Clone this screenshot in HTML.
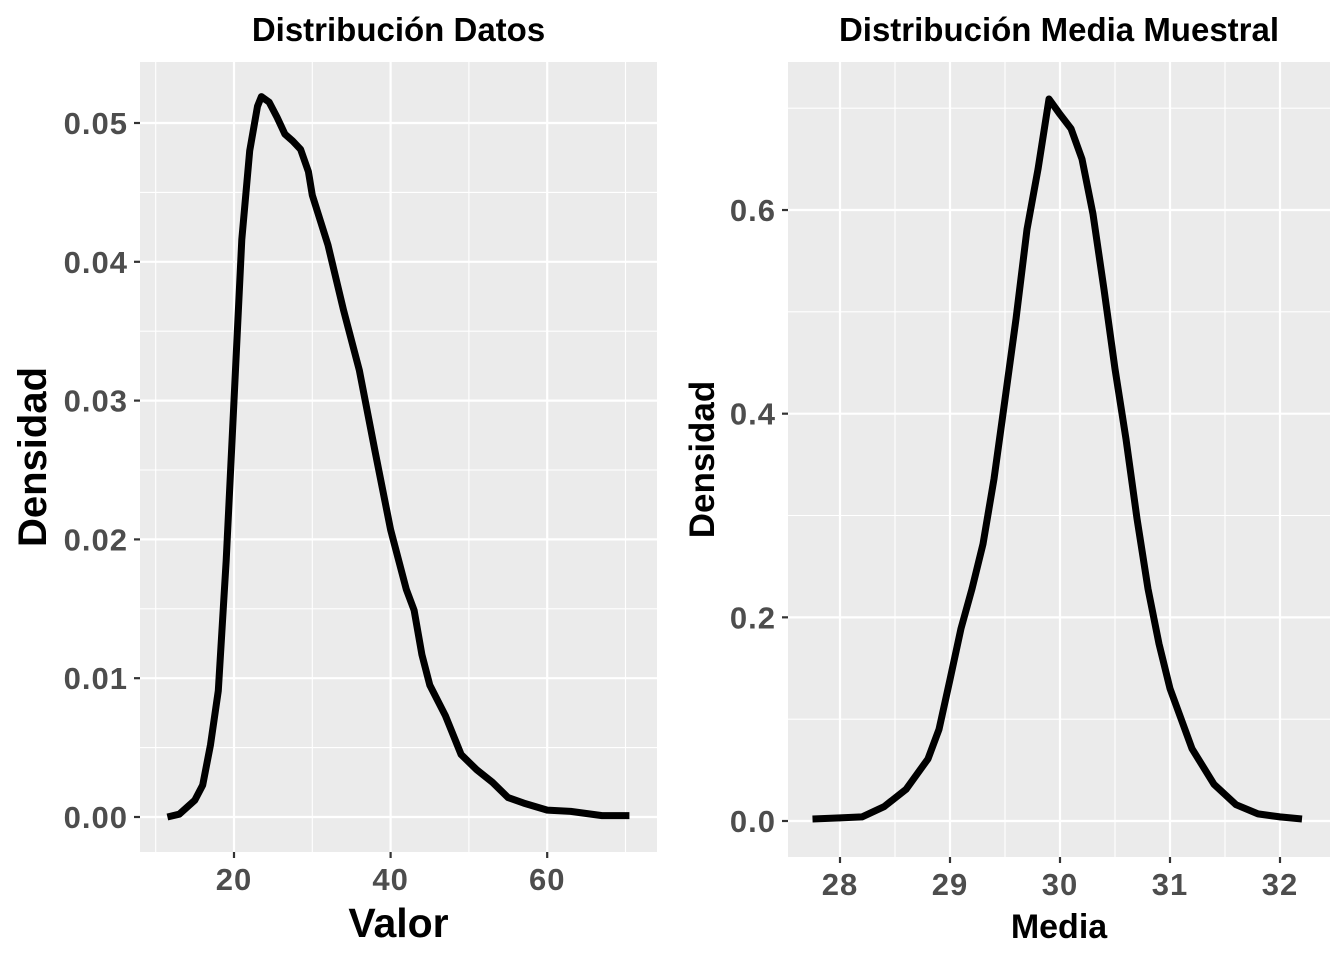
<!DOCTYPE html>
<html><head><meta charset="utf-8">
<style>
html,body{margin:0;padding:0;background:#fff;}
svg{display:block;font-family:"Liberation Sans",sans-serif;}
</style></head>
<body>
<svg id="c" width="1344" height="960"></svg>
<script>
// Left panel data
const leftX = [11.5,13,15,16,17,18,19,20,21,22,23,23.5,24.5,25.5,26.5,27.5,28.5,29.5,30,32,34,36,38,40,42,43,44,45,47,49,51,53,55,57,60,63,67,70.5];
const leftY = [0,0.0002,0.0012,0.0023,0.0052,0.0091,0.0185,0.030,0.0416,0.048,0.0512,0.0519,0.0515,0.0504,0.0492,0.0487,0.0481,0.0465,0.0448,0.0412,0.0365,0.0322,0.0264,0.0207,0.0164,0.0149,0.0117,0.0095,0.0073,0.0045,0.0034,0.0025,0.0014,0.001,0.0005,0.0004,0.0001,0.0001];
const leftXTicks = [20,40,60];
const leftYTicks = [0,0.01,0.02,0.03,0.04,0.05];
const leftYLabels = ["0.00","0.01","0.02","0.03","0.04","0.05"];
// Right panel data
const rightX = [27.75,28,28.2,28.4,28.6,28.8,28.9,29.0,29.1,29.2,29.3,29.4,29.5,29.6,29.7,29.8,29.9,30.0,30.1,30.2,30.3,30.4,30.5,30.6,30.7,30.8,30.9,31.0,31.2,31.4,31.6,31.8,32.0,32.2];
const rightY = [0.002,0.003,0.004,0.014,0.031,0.061,0.09,0.139,0.189,0.228,0.272,0.336,0.414,0.493,0.581,0.64,0.709,0.694,0.68,0.65,0.596,0.522,0.444,0.375,0.297,0.228,0.174,0.13,0.071,0.036,0.016,0.007,0.004,0.002];
const rightXTicks = [28,29,30,31,32];
const rightYTicks = [0,0.2,0.4,0.6];
const rightYLabels = ["0.0","0.2","0.4","0.6"];

const NS="http://www.w3.org/2000/svg";
const svg=document.getElementById('c');
function mk(tag,attrs,parent){const e=document.createElementNS(NS,tag);for(const k in attrs)e.setAttribute(k,attrs[k]);(parent||svg).appendChild(e);return e;}

function panel(o){
  const g=mk('g',{});
  
  
  const sx=v=>o.x0px+(v-o.x0)*o.kx;
  const sy=v=>o.y0px-(v-o.y0)*o.ky;
  const bg=mk('rect',{x:o.L,y:o.T,width:o.R-o.L,height:o.B-o.T,fill:'#ebebeb'},g);
  
  
  for(let i=0;i<o.xTicks.length+1;i++){
    const step=o.xTicks[1]-o.xTicks[0];
    const v=o.xTicks[0]-step/2+i*step;const p=sx(v);
    if(p>o.L&&p<o.R){const l=mk('line',{x1:p,x2:p,y1:o.T,y2:o.B,stroke:'#fff','stroke-width':1.1},g);
      }
  }
  for(let i=0;i<o.yTicks.length+1;i++){
    const step=o.yTicks[1]-o.yTicks[0];
    const v=o.yTicks[0]-step/2+i*step;const p=sy(v);
    if(p>o.T&&p<o.B){const l=mk('line',{x1:o.L,x2:o.R,y1:p,y2:p,stroke:'#fff','stroke-width':1.1},g);
      }
  }
  o.xTicks.forEach(v=>{const p=sx(v);
    const l=mk('line',{x1:p,x2:p,y1:o.T,y2:o.B,stroke:'#fff','stroke-width':2.2},g);
    
    const t=mk('line',{x1:p,x2:p,y1:o.B,y2:o.B+6,stroke:'#333','stroke-width':2.2},g);
    
    const tx=mk('text',{x:p,y:o.B+38,'text-anchor':'middle','font-size':31,'font-weight':'bold',fill:'#4d4d4d','letter-spacing':1},g);
    tx.textContent=String(v);
    
  });
  o.yTicks.forEach((v,i)=>{const p=sy(v);
    const l=mk('line',{x1:o.L,x2:o.R,y1:p,y2:p,stroke:'#fff','stroke-width':2.2},g);
    
    const t=mk('line',{x1:o.L-6,x2:o.L,y1:p,y2:p,stroke:'#333','stroke-width':2.2},g);
    
    const tx=mk('text',{x:o.L-12,y:p+11,'text-anchor':'end','font-size':31,'font-weight':'bold',fill:'#4d4d4d','letter-spacing':1},g);
    tx.textContent=o.yLabels[i];
    
  });
  let d='';o.xs.forEach((v,i)=>{d+=(i?'L':'M')+sx(v).toFixed(1)+','+sy(o.ys[i]).toFixed(1);});
  const path=mk('path',{d:d,fill:'none',stroke:'#000','stroke-width':7,'stroke-linejoin':'round','stroke-linecap':'butt'},g);
  
  const ti=mk('text',{x:(o.L+o.R)/2,y:41,'text-anchor':'middle','font-size':33,'font-weight':'bold',fill:'#000'},g);
  ti.textContent=o.title;
  const xt=mk('text',{x:(o.L+o.R)/2,y:o.xtY,'text-anchor':'middle','font-size':o.atSize,'font-weight':'bold',fill:'#000'},g);
  xt.textContent=o.xTitle;
  const yt=mk('text',{x:0,y:0,'text-anchor':'middle','font-size':o.ytSize,'font-weight':'bold',fill:'#000',transform:`translate(${o.ytX},${(o.T+o.B)/2}) rotate(-90)`},g);
  yt.textContent='Densidad';
}
panel({name:'panel-datos',L:140,R:657,T:62,B:852,x0:20,x0px:234,kx:7.83,y0:0,y0px:817,ky:13880,
  xTicks:leftXTicks,yTicks:leftYTicks,yLabels:leftYLabels,xs:leftX,ys:leftY,
  title:'Distribución Datos',xTitle:'Valor',atSize:41,ytSize:40,xtY:937,ytX:46});
panel({name:'panel-media',L:788,R:1330,T:62,B:857,x0:28,x0px:840,kx:110,y0:0,y0px:821,ky:1018.3,
  xTicks:rightXTicks,yTicks:rightYTicks,yLabels:rightYLabels,xs:rightX,ys:rightY,
  title:'Distribución Media Muestral',xTitle:'Media',atSize:34,ytSize:35,xtY:938,ytX:714});
</script>
</body></html>
